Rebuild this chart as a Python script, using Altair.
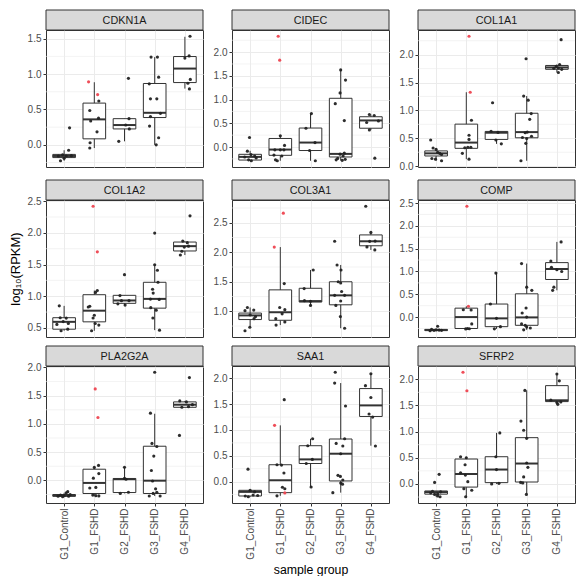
import altair as alt
import pandas as pd

GENES = ["CDKN1A", "CIDEC", "COL1A1", "COL1A2", "COL3A1", "COMP", "PLA2G2A", "SAA1", "SFRP2"]
GROUPS = ["G1_Control", "G1_FSHD", "G2_FSHD", "G3_FSHD", "G4_FSHD"]

TICKS = {
    "CDKN1A": [0.0, 0.5, 1.0, 1.5],
    "CIDEC": [0.0, 0.5, 1.0, 1.5, 2.0],
    "COL1A1": [0.0, 0.5, 1.0, 1.5, 2.0],
    "COL1A2": [0.5, 1.0, 1.5, 2.0, 2.5],
    "COL3A1": [1.0, 1.5, 2.0, 2.5],
    "COMP": [0.0, 0.5, 1.0, 1.5, 2.0, 2.5],
    "PLA2G2A": [0.0, 0.5, 1.0, 1.5, 2.0],
    "SAA1": [0.0, 0.5, 1.0, 1.5, 2.0],
    "SFRP2": [0.0, 0.5, 1.0, 1.5, 2.0],
}

# box statistics per gene, one value per group (G1_Control .. G4_FSHD)
Q1 = {
    "CDKN1A": [-0.18, 0.085, 0.225, 0.386, 0.88],
    "CIDEC": [-0.275, -0.175, -0.074, -0.21, 0.396],
    "COL1A1": [0.183, 0.32, 0.48, 0.509, 1.737],
    "COL1A2": [0.48, 0.596, 0.888, 0.812, 1.714],
    "COL3A1": [0.86, 0.848, 1.157, 1.11, 2.11],
    "COMP": [-0.295, -0.25, -0.21, -0.18, 0.824],
    "PLA2G2A": [-0.28, -0.232, -0.215, -0.232, 1.294],
    "SAA1": [-0.28, -0.215, 0.35, 0.012, 1.262],
    "SFRP2": [-0.195, -0.06, 0.025, 0.037, 1.573],
}
MED = {
    "CDKN1A": [-0.157, 0.36, 0.28, 0.453, 1.078],
    "CIDEC": [-0.208, -0.054, 0.094, -0.145, 0.56],
    "COL1A1": [0.23, 0.423, 0.6, 0.611, 1.771],
    "COL1A2": [0.596, 0.772, 0.933, 0.958, 1.79],
    "COL3A1": [0.93, 0.984, 1.173, 1.27, 2.186],
    "COMP": [-0.285, 0.0, -0.028, -0.007, 1.054],
    "PLA2G2A": [-0.27, -0.045, 0.02, -0.005, 1.34],
    "SAA1": [-0.2, 0.025, 0.43, 0.54, 1.477],
    "SFRP2": [-0.155, 0.19, 0.275, 0.39, 1.598],
}
Q3 = {
    "CDKN1A": [-0.135, 0.59, 0.37, 0.867, 1.248],
    "CIDEC": [-0.154, 0.18, 0.40, 1.027, 0.638],
    "COL1A1": [0.274, 0.754, 0.623, 0.949, 1.806],
    "COL1A2": [0.661, 1.024, 1.014, 1.22, 1.855],
    "COL3A1": [0.97, 1.363, 1.39, 1.5, 2.294],
    "COMP": [-0.27, 0.196, 0.286, 0.51, 1.194],
    "PLA2G2A": [-0.25, 0.198, 0.034, 0.605, 1.39],
    "SAA1": [-0.17, 0.326, 0.695, 0.825, 1.803],
    "SFRP2": [-0.134, 0.476, 0.52, 0.884, 1.878],
}
WLO = {
    "CDKN1A": [-0.225, -0.045, 0.05, 0.0, 0.795],
    "CIDEC": [-0.29, -0.29, -0.29, -0.28, 0.36],
    "COL1A1": [0.097, 0.126, 0.4, 0.097, 1.68],
    "COL1A2": [0.455, 0.455, 0.86, 0.465, 1.65],
    "COL3A1": [0.73, 0.767, 1.1, 0.713, 2.04],
    "COMP": [-0.3, -0.26, -0.258, -0.28, 0.587],
    "PLA2G2A": [-0.29, -0.275, -0.23, -0.277, 1.295],
    "SAA1": [-0.295, -0.277, -0.105, -0.215, 0.695],
    "SFRP2": [-0.245, -0.244, 0.0, -0.195, 1.52],
}
WHI = {
    "CDKN1A": [-0.076, 0.885, 0.37, 1.24, 1.527],
    "CIDEC": [-0.08, 0.235, 0.705, 1.625, 0.685],
    "COL1A1": [0.326, 1.326, 0.623, 1.257, 1.823],
    "COL1A2": [0.848, 1.09, 1.014, 1.497, 1.87],
    "COL3A1": [1.065, 2.088, 1.7, 1.785, 2.337],
    "COMP": [-0.27, 0.237, 0.964, 1.173, 1.648],
    "PLA2G2A": [-0.22, 0.23, 0.232, 1.18, 1.407],
    "SAA1": [-0.17, 1.09, 0.83, 1.91, 2.09],
    "SFRP2": [-0.134, 0.52, 0.975, 1.787, 2.1],
}

# sample points: per gene, per group, (value, jitter offset, highlighted)
PTS = {
    "CDKN1A": [
        [(0.24, 0.18, 0), (-0.076, 0.15, 0), (-0.225, -0.12, 0), (-0.19, 0.0, 0), (-0.157, -0.19, 0), (-0.157, 0.07, 0), (-0.153, 0.24, 0), (-0.14, -0.05, 0)],
        [(0.89, -0.19, 1), (0.71, 0.11, 1), (0.62, 0.15, 0), (0.485, -0.15, 0), (0.337, -0.12, 0), (0.377, 0.14, 0), (0.184, 0.09, 0), (0.03, -0.14, 0), (-0.045, -0.15, 0)],
        [(0.05, -0.19, 0), (0.94, 0.13, 0), (0.37, 0.15, 0), (0.225, 0.16, 0), (0.28, 0.04, 0)],
        [(1.24, -0.12, 0), (1.24, 0.09, 0), (0.956, 0.13, 0), (0.862, -0.18, 0), (0.65, -0.14, 0), (0.65, 0.07, 0), (0.445, 0.19, 0), (0.4, -0.14, 0), (0.265, -0.17, 0), (0.1, 0.13, 0), (0.0, 0.05, 0)],
        [(1.535, 0.17, 0), (1.257, 0.14, 0), (1.226, 0.0, 0), (0.925, 0.18, 0), (0.87, 0.1, 0), (0.79, 0.15, 0)],
    ],
    "CIDEC": [
        [(0.2, -0.02, 0), (-0.087, -0.09, 0), (-0.16, 0.03, 0), (-0.19, 0.15, 0), (-0.21, -0.18, 0), (-0.23, 0.2, 0), (-0.27, -0.05, 0), (-0.29, 0.04, 0)],
        [(2.335, -0.07, 1), (1.83, -0.02, 1), (0.235, 0.0, 0), (0.034, 0.14, 0), (-0.06, 0.0, 0), (-0.06, 0.12, 0), (-0.06, -0.18, 0), (-0.17, -0.21, 0), (-0.19, 0.05, 0), (-0.27, -0.16, 0), (-0.29, -0.1, 0)],
        [(0.705, 0.03, 0), (0.396, -0.15, 0), (0.094, 0.15, 0), (-0.074, -0.03, 0), (-0.29, 0.16, 0)],
        [(1.625, 0.0, 0), (1.41, 0.16, 0), (1.14, -0.02, 0), (0.913, -0.18, 0), (0.557, 0.12, 0), (-0.13, 0.12, 0), (-0.15, -0.02, 0), (-0.19, 0.08, 0), (-0.24, -0.1, 0), (-0.26, 0.15, 0), (-0.27, -0.15, 0), (-0.28, 0.05, 0)],
        [(0.685, -0.05, 0), (0.664, 0.11, 0), (0.517, -0.14, 0), (0.55, 0.25, 0), (0.36, -0.05, 0), (-0.235, 0.13, 0)],
    ],
    "COL1A1": [
        [(0.47, -0.18, 0), (0.326, -0.1, 0), (0.30, 0.0, 0), (0.25, 0.05, 0), (0.23, 0.12, 0), (0.21, 0.18, 0), (0.137, -0.14, 0), (0.126, -0.02, 0), (0.097, 0.18, 0)],
        [(0.126, 0.09, 0), (0.23, -0.13, 0), (0.33, -0.05, 0), (0.34, 0.05, 0), (0.34, 0.15, 0), (0.48, 0.09, 0), (0.554, 0.09, 0), (0.823, 0.17, 0), (1.326, 0.13, 1), (2.33, 0.09, 1)],
        [(1.137, -0.13, 0), (0.625, -0.18, 0), (0.605, 0.05, 0), (0.47, -0.02, 0), (0.4, 0.16, 0)],
        [(1.926, -0.02, 0), (1.257, -0.1, 0), (1.183, 0.05, 0), (0.943, 0.15, 0), (0.84, 0.1, 0), (0.611, 0.02, 0), (0.6, -0.05, 0), (0.537, 0.16, 0), (0.514, -0.14, 0), (0.497, 0.0, 0), (0.41, -0.03, 0), (0.097, -0.19, 0)],
        [(2.269, 0.14, 0), (1.823, 0.09, 0), (1.79, -0.02, 0), (1.754, -0.1, 0), (1.76, 0.05, 0), (1.737, 0.16, 0), (1.68, 0.05, 0)],
    ],
    "COL1A2": [
        [(0.848, -0.16, 0), (0.66, -0.13, 0), (0.655, 0.07, 0), (0.6, -0.03, 0), (0.57, 0.14, 0), (0.555, -0.24, 0), (0.48, 0.12, 0), (0.455, -0.1, 0)],
        [(2.42, -0.04, 1), (1.7, 0.1, 1), (1.09, 0.1, 0), (1.06, 0.04, 0), (0.842, -0.15, 0), (0.83, -0.2, 0), (0.7, 0.0, 0), (0.656, -0.04, 0), (0.57, 0.03, 0), (0.545, 0.15, 0), (0.455, -0.09, 0)],
        [(1.34, 0.0, 0), (1.01, -0.15, 0), (0.93, -0.1, 0), (0.93, 0.15, 0), (0.88, -0.22, 0), (0.86, 0.02, 0)],
        [(1.996, 0.0, 0), (1.497, 0.0, 0), (1.41, 0.09, 0), (1.22, 0.11, 0), (1.11, -0.07, 0), (1.05, -0.05, 0), (0.955, -0.14, 0), (0.95, 0.15, 0), (0.82, -0.13, 0), (0.78, 0.05, 0), (0.656, -0.06, 0), (0.465, 0.16, 0)],
        [(2.268, 0.17, 0), (1.87, -0.07, 0), (1.845, 0.08, 0), (1.79, 0.12, 0), (1.775, -0.02, 0), (1.71, -0.1, 0), (1.65, -0.15, 0)],
    ],
    "COL3A1": [
        [(1.065, -0.09, 0), (1.01, -0.17, 0), (1.02, 0.12, 0), (0.94, 0.0, 0), (0.91, 0.18, 0), (0.875, 0.13, 0), (0.73, -0.01, 0), (0.67, -0.17, 0)],
        [(2.662, 0.1, 1), (2.088, -0.2, 1), (1.47, 0.13, 0), (1.065, -0.02, 0), (1.027, 0.15, 0), (0.957, 0.06, 0), (0.875, -0.15, 0), (0.82, 0.15, 0), (0.767, -0.14, 0)],
        [(1.7, 0.09, 0), (1.385, -0.21, 0), (1.18, -0.2, 0), (1.17, 0.0, 0), (1.1, 0.0, 0)],
        [(2.186, -0.2, 0), (1.785, -0.12, 0), (1.7, 0.01, 0), (1.5, -0.08, 0), (1.48, 0.0, 0), (1.335, 0.03, 0), (1.27, -0.2, 0), (1.27, 0.13, 0), (1.175, 0.0, 0), (1.1, -0.16, 0), (0.91, -0.01, 0), (0.713, 0.13, 0)],
        [(2.78, -0.17, 0), (2.337, 0.0, 0), (2.19, 0.14, 0), (2.185, -0.04, 0), (2.09, -0.13, 0), (2.04, 0.13, 0)],
    ],
    "COMP": [
        [(-0.2, 0.05, 0), (-0.27, -0.15, 0), (-0.28, 0.0, 0), (-0.285, 0.1, 0), (-0.29, -0.07, 0), (-0.29, 0.18, 0), (-0.3, -0.2, 0)],
        [(2.43, 0.02, 1), (0.237, 0.07, 1), (0.16, -0.1, 0), (0.155, 0.16, 0), (-0.15, 0.18, 0), (-0.25, 0.04, 0), (-0.255, 0.1, 0), (-0.26, -0.02, 0)],
        [(0.964, -0.02, 0), (0.286, -0.2, 0), (-0.028, 0.0, 0), (-0.21, 0.13, 0), (-0.258, -0.07, 0)],
        [(1.173, -0.17, 0), (0.656, 0.0, 0), (0.587, 0.17, 0), (0.2, -0.02, 0), (0.09, -0.15, 0), (0.0, 0.0, 0), (-0.15, -0.17, 0), (-0.18, -0.05, 0), (-0.22, 0.0, 0), (-0.24, 0.12, 0), (-0.28, -0.1, 0)],
        [(1.648, 0.14, 0), (1.23, -0.2, 0), (1.09, -0.18, 0), (1.04, 0.0, 0), (1.0, 0.16, 0), (0.656, -0.1, 0), (0.587, -0.14, 0)],
    ],
    "PLA2G2A": [
        [(-0.2, 0.12, 0), (-0.22, 0.07, 0), (-0.25, 0.2, 0), (-0.26, -0.12, 0), (-0.27, 0.0, 0), (-0.28, -0.2, 0), (-0.28, 0.15, 0), (-0.29, -0.05, 0)],
        [(1.62, 0.03, 1), (1.113, 0.12, 1), (0.265, 0.14, 0), (0.23, 0.0, 0), (0.12, 0.15, 0), (0.04, -0.03, 0), (-0.125, 0.05, 0), (-0.135, -0.15, 0), (-0.26, -0.05, 0), (-0.27, 0.05, 0), (-0.275, 0.15, 0)],
        [(0.232, 0.0, 0), (0.035, 0.0, 0), (0.02, 0.05, 0), (-0.21, 0.13, 0), (-0.23, -0.14, 0)],
        [(1.915, 0.0, 0), (1.19, -0.14, 0), (0.655, -0.09, 0), (0.6, 0.07, 0), (0.43, -0.03, 0), (0.175, -0.11, 0), (-0.01, -0.07, 0), (-0.15, 0.03, 0), (-0.21, 0.07, 0), (-0.23, -0.05, 0), (-0.277, -0.18, 0), (-0.277, 0.18, 0)],
        [(1.82, 0.15, 0), (1.407, -0.17, 0), (1.39, 0.05, 0), (1.34, 0.25, 0), (1.305, 0.12, 0), (1.295, -0.1, 0), (0.797, -0.18, 0)],
    ],
    "SAA1": [
        [(0.24, -0.07, 0), (-0.17, 0.0, 0), (-0.2, 0.15, 0), (-0.26, 0.1, 0), (-0.27, 0.25, 0), (-0.28, -0.16, 0), (-0.295, -0.06, 0)],
        [(1.588, 0.13, 0), (1.09, -0.19, 1), (0.326, -0.11, 0), (0.32, 0.04, 0), (0.166, 0.12, 0), (-0.11, 0.07, 0), (-0.14, 0.15, 0), (-0.22, 0.15, 1), (-0.277, -0.11, 0)],
        [(0.83, 0.07, 0), (0.695, -0.09, 0), (0.43, 0.06, 0), (0.35, -0.14, 0), (-0.105, 0.02, 0)],
        [(2.12, -0.18, 0), (1.91, -0.2, 0), (1.465, 0.16, 0), (0.83, 0.13, 0), (0.74, -0.15, 0), (0.69, 0.07, 0), (0.54, 0.0, 0), (0.12, -0.09, 0), (0.1, -0.01, 0), (0.03, 0.07, 0), (-0.03, 0.0, 0), (-0.05, 0.06, 0), (-0.215, -0.26, 0)],
        [(2.09, 0.0, 0), (1.86, -0.18, 0), (1.63, 0.0, 0), (1.31, -0.06, 0), (1.25, 0.06, 0), (0.69, 0.15, 0)],
    ],
    "SFRP2": [
        [(0.183, 0.1, 0), (0.03, -0.05, 0), (-0.14, -0.12, 0), (-0.15, 0.15, 0), (-0.17, -0.18, 0), (-0.19, 0.05, 0), (-0.2, -0.05, 0), (-0.23, 0.05, 0), (-0.245, 0.13, 0)],
        [(2.134, -0.11, 1), (1.78, 0.02, 1), (0.52, -0.19, 0), (0.5, 0.0, 0), (0.366, -0.04, 0), (0.213, -0.19, 0), (0.17, -0.03, 0), (0.043, 0.05, 0), (-0.09, -0.08, 0), (-0.12, 0.18, 0), (-0.244, -0.02, 0)],
        [(0.975, 0.11, 0), (0.52, -0.02, 0), (0.275, 0.0, 0), (0.012, 0.08, 0), (0.0, -0.16, 0)],
        [(1.787, -0.06, 0), (1.2, -0.19, 0), (1.025, -0.1, 0), (0.872, 0.0, 0), (0.4, 0.0, 0), (0.317, 0.04, 0), (0.134, -0.1, 0), (0.03, -0.2, 0), (0.02, -0.13, 0), (-0.2, -0.01, 0)],
        [(2.1, 0.0, 0), (1.97, 0.08, 0), (1.6, -0.2, 0), (1.567, 0.13, 0), (1.555, 0.0, 0), (1.52, 0.03, 0)],
    ],
}

W, H = 157, 137
STRIP = 20
HALF_BOX = 0.375
FONT = "Liberation Sans"
DARK = "#333333"
GRID = "#EBEBEB"
RED = "#EE4450"
YTITLE = "log\u2081\u2080(RPKM)"
LABEL_EXPR = "['" + "','".join(GROUPS) + "'][datum.value - 1]"


def panel(i, gene):
    row, col = divmod(i, 3)
    rows = []
    for gi, plist in enumerate(PTS[gene]):
        for v, off, r in plist:
            rows.append({"g": gi + 1, "v": v, "off": off, "red": r})
    dfp = pd.DataFrame(rows)
    dfb = pd.DataFrame({
        "g": list(range(1, len(GROUPS) + 1)),
        "q1": Q1[gene], "med": MED[gene], "q3": Q3[gene],
        "lo": WLO[gene], "hi": WHI[gene],
    })
    allv = list(dfp["v"]) + WLO[gene] + WHI[gene]
    vmin, vmax = min(allv), max(allv)
    pad = 0.05 * (vmax - vmin)
    dom = [vmin - pad, vmax + pad]

    ticks = TICKS[gene]
    step = ticks[1] - ticks[0]
    minor = [t - step / 2 for t in ticks] + [ticks[-1] + step / 2]
    minor = [m for m in minor if dom[0] <= m <= dom[1]]

    xs = alt.Scale(domain=[0.4, 5.6], nice=False, zero=False)
    ys = alt.Scale(domain=dom, nice=False, zero=False)

    if row == 2:
        xaxis = alt.Axis(
            values=[1, 2, 3, 4, 5], labelExpr=LABEL_EXPR, labelAngle=270,
            labelAlign="right", labelBaseline="middle", labelFontSize=10,
            labelColor="#4D4D4D", labelPadding=2, labelOverlap=False, labelFlush=False,
            tickSize=3, tickColor=DARK, domain=False, grid=True, gridColor=GRID,
            title="sample group" if col == 1 else None,
            titleFontSize=12.3, titleFontWeight="normal", titleColor="#000000", titlePadding=4,
        )
    else:
        xaxis = alt.Axis(values=[1, 2, 3, 4, 5], labels=False, ticks=False, domain=False,
                         grid=True, gridColor=GRID, title=None)

    ytitle = YTITLE if col == 0 else None
    yaxis = alt.Axis(
        values=ticks, format=".1f", grid=True, gridColor=GRID, domain=False,
        tickSize=3, tickColor=DARK, labelFontSize=10, labelColor="#4D4D4D",
        labelPadding=2, labelFlush=False, labelOverlap=False,
        title=ytitle, titleFontSize=13, titleFontWeight="normal",
        titleColor="#000000" if row == 1 else "transparent", titlePadding=5,
    )

    X = lambda f: alt.X(f, scale=xs, axis=xaxis)
    Y = lambda f: alt.Y(f, scale=ys, axis=yaxis)

    minor_layer = alt.Chart(pd.DataFrame({"m": minor})).mark_rule(
        color=GRID, strokeWidth=0.6
    ).encode(y=Y("m:Q"))

    whisk = alt.Chart(dfb).mark_rule(color=DARK, strokeWidth=1).encode(
        x=X("g:Q"), y=Y("lo:Q"), y2="hi:Q",
    )
    box = alt.Chart(dfb).transform_calculate(
        xa=f"datum.g - {HALF_BOX}", xb=f"datum.g + {HALF_BOX}"
    ).mark_rect(fill="white", stroke=DARK, strokeWidth=1).encode(
        x=X("xa:Q"), x2="xb:Q", y=Y("q1:Q"), y2="q3:Q",
    )
    med = alt.Chart(dfb).transform_calculate(
        xa=f"datum.g - {HALF_BOX}", xb=f"datum.g + {HALF_BOX}"
    ).mark_rule(color=DARK, strokeWidth=2).encode(
        x=X("xa:Q"), x2="xb:Q", y=Y("med:Q"),
    )
    pts = alt.Chart(dfp).transform_calculate(xp="datum.g + datum.off").mark_circle(
        size=10, opacity=0.95
    ).encode(
        x=X("xp:Q"), y=Y("v:Q"),
        color=alt.condition("datum.red == 1", alt.value(RED), alt.value("#222222")),
    )
    sdf = pd.DataFrame({"t": [gene]})
    strip = alt.Chart(sdf).mark_rect(fill="#D9D9D9", stroke=DARK, strokeWidth=1).encode(
        x=alt.value(0), x2=alt.value(W), y=alt.value(-STRIP), y2=alt.value(0)
    )
    stext = alt.Chart(sdf).mark_text(
        fontSize=10.8, color="#1A1A1A", font=FONT, align="center", baseline="middle"
    ).encode(x=alt.value(W / 2), y=alt.value(-STRIP / 2 + 0.5), text="t:N")

    return alt.layer(minor_layer, whisk, box, med, pts, strip, stext).properties(
        width=W, height=H
    )


panels = [panel(i, g) for i, g in enumerate(GENES)]

chart = alt.concat(*panels, columns=3, spacing={"row": 7, "column": 8}).properties(
    padding={"left": 0, "top": 1, "right": 0, "bottom": 0}
).configure(font=FONT).configure_view(stroke=DARK, strokeWidth=1).configure_axis(
    labelFont=FONT, titleFont=FONT
)

chart.save("out.html", embed_options={"renderer": "svg", "actions": False})
